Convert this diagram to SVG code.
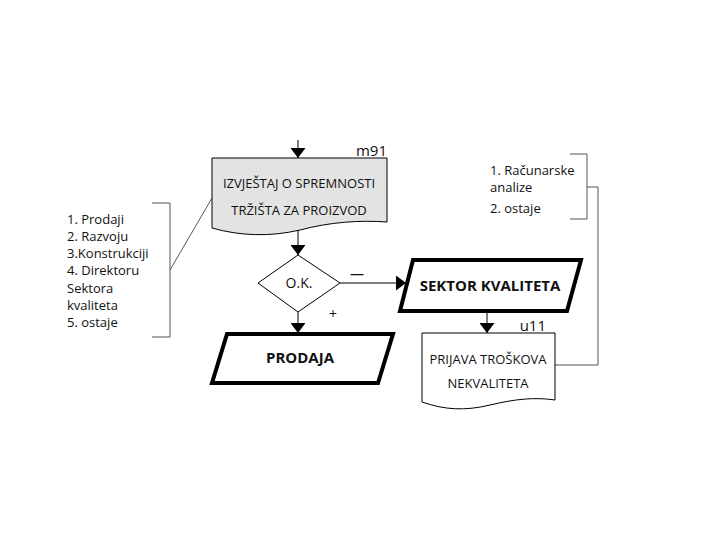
<svg xmlns="http://www.w3.org/2000/svg" width="720" height="540" viewBox="0 0 720 540">
<style>
.t{font-family:"Open Sans","Noto Sans","Liberation Sans",sans-serif;fill:#111}
.n{font-size:13px}
.b{font-size:15px;font-weight:bold}
.s{font-size:13px}
.ln{stroke:#000;stroke-width:1;fill:none}
.gr{stroke:#555;stroke-width:1;fill:none}
</style>
<defs>
<marker id="ah" viewBox="0 0 10 15" refX="10" refY="7.5" markerWidth="10" markerHeight="15" markerUnits="userSpaceOnUse" orient="auto">
<path d="M0,0 L10,7.5 L0,15 Z" fill="#000"/>
</marker>
</defs>
<rect width="720" height="540" fill="#fff"/>
<g id="connectors">
<line class="ln" x1="298" y1="140" x2="298" y2="158" marker-end="url(#ah)"/>
<line class="ln" x1="298" y1="230" x2="298" y2="255" marker-end="url(#ah)"/>
<line class="ln" x1="298" y1="312" x2="298" y2="333" marker-end="url(#ah)"/>
<line class="ln" x1="340" y1="283" x2="406" y2="283" marker-end="url(#ah)"/>
<line class="ln" x1="487" y1="312" x2="487" y2="333" marker-end="url(#ah)"/>
<polyline class="gr" points="555,365 598,365 598,187 587,187"/>
<line class="gr" x1="170" y1="270" x2="212" y2="198"/>
<text class="t" x="333" y="319" font-size="14" text-anchor="middle">+</text>
<text class="t" x="357" y="279" font-size="14" text-anchor="middle">—</text>
</g>
<g id="m91">
<path d="M212,158 L387,158 L387,222 C360,220 330,222 300,230 C270,237 240,236 212,228 Z" fill="#e3e3e3" stroke="#000" stroke-width="1"/>
<text class="t n" x="299" y="188" text-anchor="middle">IZVJEŠTAJ O SPREMNOSTI</text>
<text class="t n" x="299" y="215" text-anchor="middle">TRŽIŠTA ZA PROIZVOD</text>
<text class="t" x="387" y="156" font-size="15" text-anchor="end">m91</text>
</g>
<g id="ok">
<path d="M298,255 L340,283 L298,312 L258,283 Z" fill="#fff" stroke="#000" stroke-width="1"/>
<text class="t" x="299" y="288" font-size="14" text-anchor="middle">O.K.</text>
</g>
<g id="prodaja">
<path d="M227,334 L393,334 L378,383 L212,383 Z" fill="#fff" stroke="#000" stroke-width="4" stroke-linejoin="miter"/>
<text class="t b" x="300" y="363" text-anchor="middle">PRODAJA</text>
</g>
<g id="sektor">
<path d="M413,260 L581,260 L567,311 L400,311 Z" fill="#fff" stroke="#000" stroke-width="4"/>
<text class="t b" x="490" y="291" text-anchor="middle">SEKTOR KVALITETA</text>
</g>
<g id="u11">
<path d="M422,333 L555,333 L555,400 C535,397 515,399 490,405 C465,411 445,410 422,402 Z" fill="#fff" stroke="#000" stroke-width="1"/>
<text class="t n" x="488" y="364" text-anchor="middle">PRIJAVA TROŠKOVA</text>
<text class="t n" x="488" y="388" text-anchor="middle">NEKVALITETA</text>
<text class="t" x="546" y="331" font-size="15" text-anchor="end">u11</text>
</g>
<g id="left-note">
<polyline class="gr" points="152,203 170,203 170,337 152,337"/>
<text class="t s" x="67" y="224">1. Prodaji</text>
<text class="t s" x="67" y="241">2. Razvoju</text>
<text class="t s" x="67" y="258">3.Konstrukciji</text>
<text class="t s" x="67" y="275">4. Direktoru</text>
<text class="t s" x="67" y="293">Sektora</text>
<text class="t s" x="67" y="310">kvaliteta</text>
<text class="t s" x="67" y="327">5. ostaje</text>
</g>
<g id="right-note">
<polyline class="gr" points="570,154 587,154 587,219 570,219"/>
<text class="t s" x="490" y="175">1. Računarske</text>
<text class="t s" x="490" y="192">analize</text>
<text class="t s" x="490" y="213">2. ostaje</text>
</g>
</svg>
